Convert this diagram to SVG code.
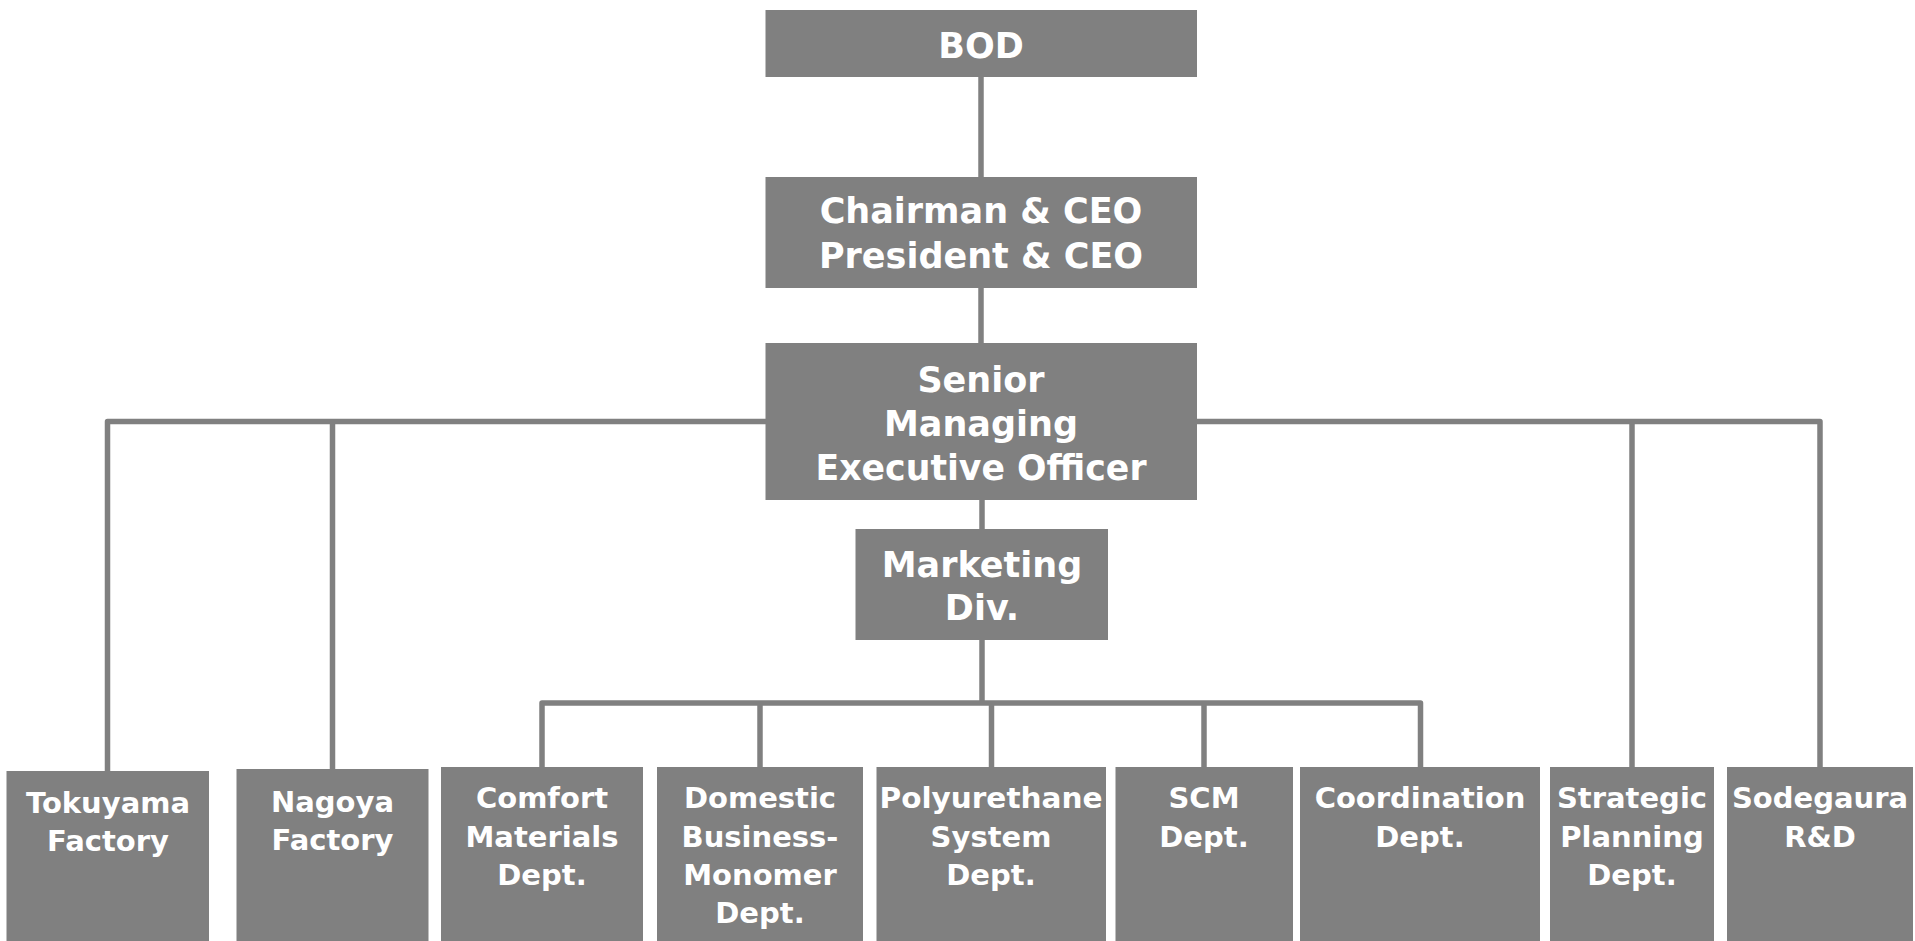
<svg xmlns="http://www.w3.org/2000/svg" width="1915" height="941" viewBox="0 0 1915 941">
<style>
.box{fill:#808080;}
.t{fill:#ffffff;font-family:"DejaVu Sans","Liberation Sans",sans-serif;font-weight:bold;text-anchor:middle;}
.big{font-size:35px;}
.sm{font-size:29px;}
.ln{fill:none;stroke:#808080;stroke-width:5.5;stroke-linejoin:round;}
</style>
<rect width="1915" height="941" fill="#ffffff"/>
<g id="connectors">
<path class="ln" d="M981,77 V177"/>
<path class="ln" d="M981,288 V343"/>
<path class="ln" d="M982,500 V529"/>
<path class="ln" d="M107.5,771 V421.5 H766"/>
<path class="ln" d="M332.5,769 V421.5"/>
<path class="ln" d="M1197,421.5 H1820 V767"/>
<path class="ln" d="M1632,421.5 V767"/>
<path class="ln" d="M982,640 V703"/>
<path class="ln" d="M542,767 V703 H1420.5 V767"/>
<path class="ln" d="M760,703 V767"/>
<path class="ln" d="M991.5,703 V767"/>
<path class="ln" d="M1204,703 V767"/>
</g>
<g id="bod">
<rect class="box" x="765.5" y="10" width="431.5" height="67"/>
<text class="t big" x="981" y="58">BOD</text>
</g>
<g id="ceo">
<rect class="box" x="765.5" y="177" width="431.5" height="111"/>
<text class="t big" x="981" y="223">Chairman &amp; CEO</text>
<text class="t big" x="981" y="268">President &amp; CEO</text>
</g>
<g id="senior">
<rect class="box" x="765.5" y="343" width="431.5" height="157"/>
<text class="t big" x="981" y="392">Senior</text>
<text class="t big" x="981" y="436">Managing</text>
<text class="t big" x="981" y="480" textLength="331" lengthAdjust="spacingAndGlyphs">Executive Officer</text>
</g>
<g id="marketing">
<rect class="box" x="855.5" y="529" width="252.5" height="111"/>
<text class="t big" x="982" y="577">Marketing</text>
<text class="t big" x="982" y="620">Div.</text>
</g>
<g id="tokuyama">
<rect class="box" x="6.5" y="771" width="202.5" height="170"/>
<text class="t sm" x="108" y="813">Tokuyama</text>
<text class="t sm" x="108" y="851">Factory</text>
</g>
<g id="nagoya">
<rect class="box" x="236.5" y="769" width="192" height="172"/>
<text class="t sm" x="332.5" y="812">Nagoya</text>
<text class="t sm" x="332.5" y="850">Factory</text>
</g>
<g id="comfort">
<rect class="box" x="441" y="767" width="202" height="174"/>
<text class="t sm" x="542" y="808">Comfort</text>
<text class="t sm" x="542" y="846.5">Materials</text>
<text class="t sm" x="542" y="885">Dept.</text>
</g>
<g id="domestic">
<rect class="box" x="657" y="767" width="206" height="174"/>
<text class="t sm" x="760" y="808">Domestic</text>
<text class="t sm" x="760" y="846.5">Business-</text>
<text class="t sm" x="760" y="885">Monomer</text>
<text class="t sm" x="760" y="923">Dept.</text>
</g>
<g id="polyurethane">
<rect class="box" x="876.5" y="767" width="229.5" height="174"/>
<text class="t sm" x="991" y="808" textLength="223" lengthAdjust="spacingAndGlyphs">Polyurethane</text>
<text class="t sm" x="991" y="846.5">System</text>
<text class="t sm" x="991" y="885">Dept.</text>
</g>
<g id="scm">
<rect class="box" x="1115.5" y="767" width="177.5" height="174"/>
<text class="t sm" x="1204" y="808">SCM</text>
<text class="t sm" x="1204" y="846.5">Dept.</text>
</g>
<g id="coordination">
<rect class="box" x="1300" y="767" width="240" height="174"/>
<text class="t sm" x="1420" y="808">Coordination</text>
<text class="t sm" x="1420" y="846.5">Dept.</text>
</g>
<g id="strategic">
<rect class="box" x="1550" y="767" width="164" height="174"/>
<text class="t sm" x="1632" y="808">Strategic</text>
<text class="t sm" x="1632" y="846.5">Planning</text>
<text class="t sm" x="1632" y="885">Dept.</text>
</g>
<g id="sodegaura">
<rect class="box" x="1727" y="767" width="186" height="174"/>
<text class="t sm" x="1820" y="808">Sodegaura</text>
<text class="t sm" x="1820" y="846.5">R&amp;D</text>
</g>
</svg>
